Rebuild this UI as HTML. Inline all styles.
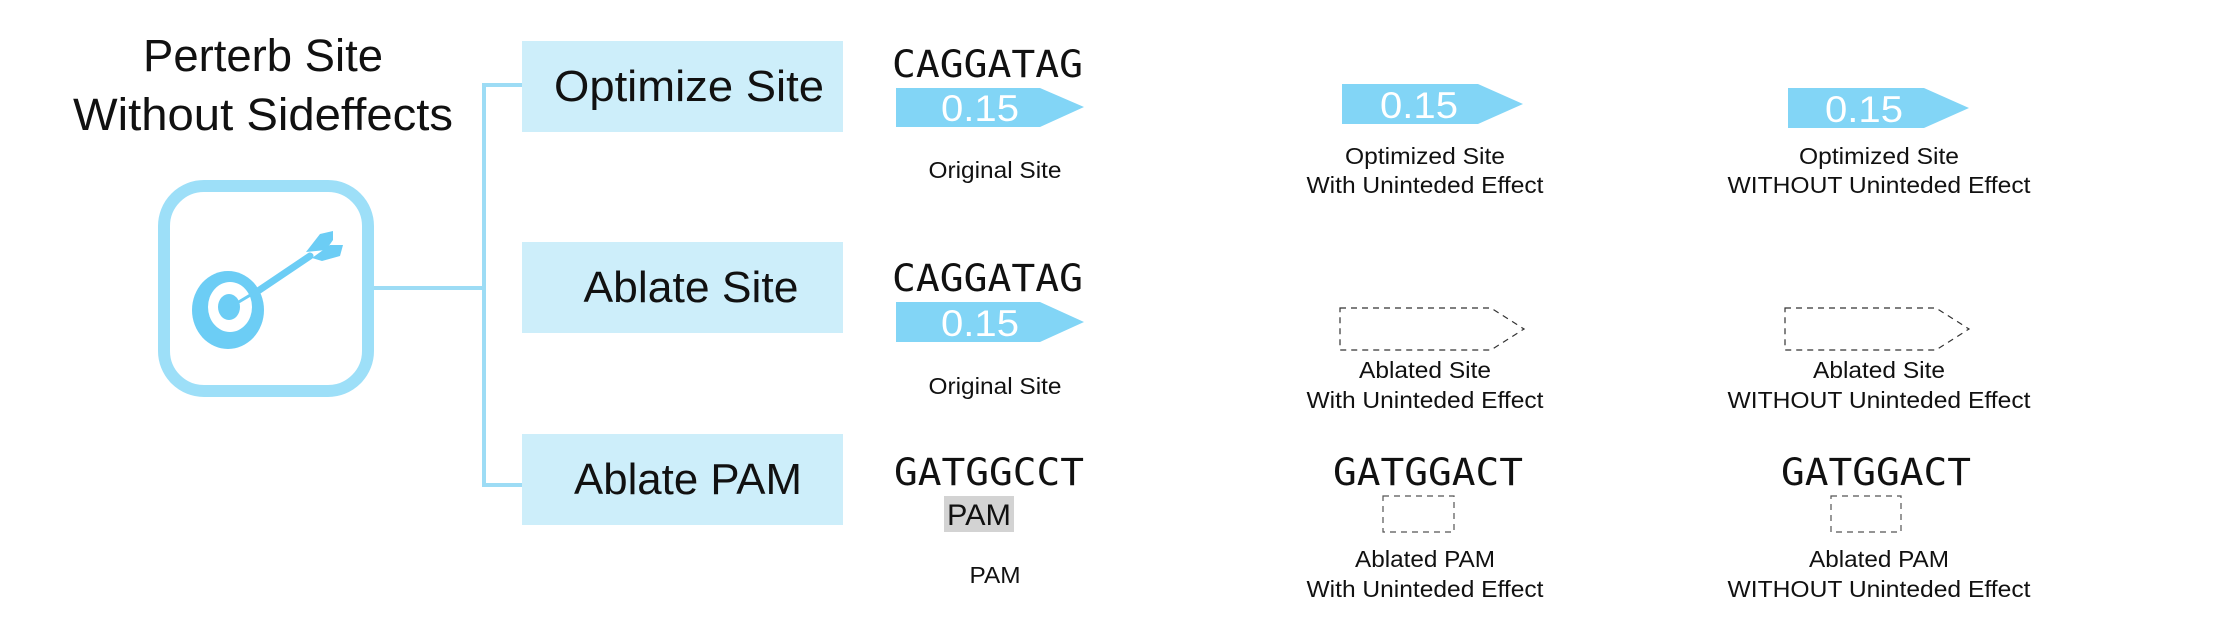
<!DOCTYPE html>
<html><head><meta charset="utf-8"><style>
html,body{margin:0;padding:0;background:#fff;}
body{width:2227px;height:625px;position:relative;overflow:hidden;}
svg{position:absolute;left:0;top:0;}
text{font-family:"Liberation Sans",sans-serif;}
.m{font-family:"DejaVu Sans Mono","Liberation Mono",monospace;font-size:37px;fill:#111;}
.s{font-size:23px;fill:#111;}
.b{font-size:44px;fill:#111;}
.w{font-size:37px;fill:#fff;}
</style></head><body>
<svg width="2227" height="625" viewBox="0 0 2227 625">
<text x="263" y="71" text-anchor="middle" font-size="45" fill="#111" textLength="240" lengthAdjust="spacingAndGlyphs">Perterb Site</text>
<text x="263" y="130" text-anchor="middle" font-size="45" fill="#111" textLength="380" lengthAdjust="spacingAndGlyphs">Without Sideffects</text>
<rect x="164" y="186" width="204" height="205" rx="40" fill="#fff" stroke="#9ddff8" stroke-width="12"/>
<ellipse cx="228" cy="310" rx="36" ry="39" fill="#6ccdf5"/>
<ellipse cx="230" cy="307" rx="22" ry="25" fill="#fff"/>
<ellipse cx="229" cy="307" rx="11" ry="13" fill="#6ccdf5"/>
<line x1="232" y1="306" x2="262" y2="288" stroke="#6ccdf5" stroke-width="3" stroke-linecap="round"/>
<line x1="258" y1="291" x2="310" y2="256" stroke="#6ccdf5" stroke-width="7" stroke-linecap="round"/>
<polygon points="306,252 320,234 333,231 333,240 326,250" fill="#6ccdf5"/>
<polygon points="312,258 330,245 343,245 340,256 322,261" fill="#6ccdf5"/>
<line x1="374" y1="288" x2="484" y2="288" stroke="#9ddcf5" stroke-width="4"/>
<line x1="484" y1="83" x2="484" y2="487" stroke="#9ddcf5" stroke-width="4"/>
<line x1="482" y1="85" x2="522" y2="85" stroke="#9ddcf5" stroke-width="4"/>
<line x1="482" y1="485" x2="522" y2="485" stroke="#9ddcf5" stroke-width="4"/>
<rect x="522" y="41" width="321" height="91" fill="#cdeefa"/>
<rect x="522" y="242" width="321" height="91" fill="#cdeefa"/>
<rect x="522" y="434" width="321" height="91" fill="#cdeefa"/>
<text x="689" y="101" text-anchor="middle" class="b" textLength="270" lengthAdjust="spacingAndGlyphs">Optimize Site</text>
<text x="691" y="302" text-anchor="middle" class="b" textLength="215" lengthAdjust="spacingAndGlyphs">Ablate Site</text>
<text x="688" y="494" text-anchor="middle" class="b" textLength="228" lengthAdjust="spacingAndGlyphs">Ablate PAM</text>

<text x="892" y="77" class="m" textLength="191" lengthAdjust="spacingAndGlyphs">CAGGATAG</text>
<polygon points="896,88 1040,88 1084,107 1040,127 896,127" fill="#82d5f6"/>
<text x="980" y="121" text-anchor="middle" class="w" textLength="78" lengthAdjust="spacingAndGlyphs">0.15</text>
<text x="995" y="178" text-anchor="middle" class="s" textLength="133" lengthAdjust="spacingAndGlyphs">Original Site</text>

<polygon points="1342,84 1478,84 1523,104 1478,124 1342,124" fill="#82d5f6"/>
<text x="1419" y="118" text-anchor="middle" class="w" textLength="78" lengthAdjust="spacingAndGlyphs">0.15</text>
<text x="1425" y="164" text-anchor="middle" class="s" textLength="160" lengthAdjust="spacingAndGlyphs">Optimized Site</text>
<text x="1425" y="193" text-anchor="middle" class="s" textLength="237" lengthAdjust="spacingAndGlyphs">With Uninteded Effect</text>

<polygon points="1788,88 1924,88 1969,108 1924,128 1788,128" fill="#82d5f6"/>
<text x="1864" y="122" text-anchor="middle" class="w" textLength="78" lengthAdjust="spacingAndGlyphs">0.15</text>
<text x="1879" y="164" text-anchor="middle" class="s" textLength="160" lengthAdjust="spacingAndGlyphs">Optimized Site</text>
<text x="1879" y="193" text-anchor="middle" class="s" textLength="303" lengthAdjust="spacingAndGlyphs">WITHOUT Uninteded Effect</text>

<text x="892" y="291" class="m" textLength="191" lengthAdjust="spacingAndGlyphs">CAGGATAG</text>
<polygon points="896,302 1040,302 1084,322 1040,342 896,342" fill="#82d5f6"/>
<text x="980" y="336" text-anchor="middle" class="w" textLength="78" lengthAdjust="spacingAndGlyphs">0.15</text>
<text x="995" y="394" text-anchor="middle" class="s" textLength="133" lengthAdjust="spacingAndGlyphs">Original Site</text>

<polygon points="1340,308 1491,308 1524,329 1491,350 1340,350" fill="none" stroke="#333" stroke-width="1.2" stroke-dasharray="6,5"/>
<text x="1425" y="378" text-anchor="middle" class="s" textLength="132" lengthAdjust="spacingAndGlyphs">Ablated Site</text>
<text x="1425" y="408" text-anchor="middle" class="s" textLength="237" lengthAdjust="spacingAndGlyphs">With Uninteded Effect</text>
<polygon points="1785,308 1936,308 1969,329 1936,350 1785,350" fill="none" stroke="#333" stroke-width="1.2" stroke-dasharray="6,5"/>
<text x="1879" y="378" text-anchor="middle" class="s" textLength="132" lengthAdjust="spacingAndGlyphs">Ablated Site</text>
<text x="1879" y="408" text-anchor="middle" class="s" textLength="303" lengthAdjust="spacingAndGlyphs">WITHOUT Uninteded Effect</text>

<text x="894" y="485" class="m" textLength="190" lengthAdjust="spacingAndGlyphs">GATGGCCT</text>
<rect x="944" y="496" width="70" height="36" fill="#d3d3d3"/>
<text x="979" y="525" text-anchor="middle" font-size="30" fill="#111" textLength="64" lengthAdjust="spacingAndGlyphs">PAM</text>
<text x="995" y="583" text-anchor="middle" class="s" textLength="51" lengthAdjust="spacingAndGlyphs">PAM</text>

<text x="1333" y="485" class="m" textLength="190" lengthAdjust="spacingAndGlyphs">GATGGACT</text>
<rect x="1383" y="496" width="71" height="36" fill="none" stroke="#555" stroke-width="1.2" stroke-dasharray="6,5"/>
<text x="1425" y="567" text-anchor="middle" class="s" textLength="140" lengthAdjust="spacingAndGlyphs">Ablated PAM</text>
<text x="1425" y="597" text-anchor="middle" class="s" textLength="237" lengthAdjust="spacingAndGlyphs">With Uninteded Effect</text>

<text x="1781" y="485" class="m" textLength="190" lengthAdjust="spacingAndGlyphs">GATGGACT</text>
<rect x="1831" y="496" width="70" height="36" fill="none" stroke="#555" stroke-width="1.2" stroke-dasharray="6,5"/>
<text x="1879" y="567" text-anchor="middle" class="s" textLength="140" lengthAdjust="spacingAndGlyphs">Ablated PAM</text>
<text x="1879" y="597" text-anchor="middle" class="s" textLength="303" lengthAdjust="spacingAndGlyphs">WITHOUT Uninteded Effect</text>
</svg>
</body></html>
